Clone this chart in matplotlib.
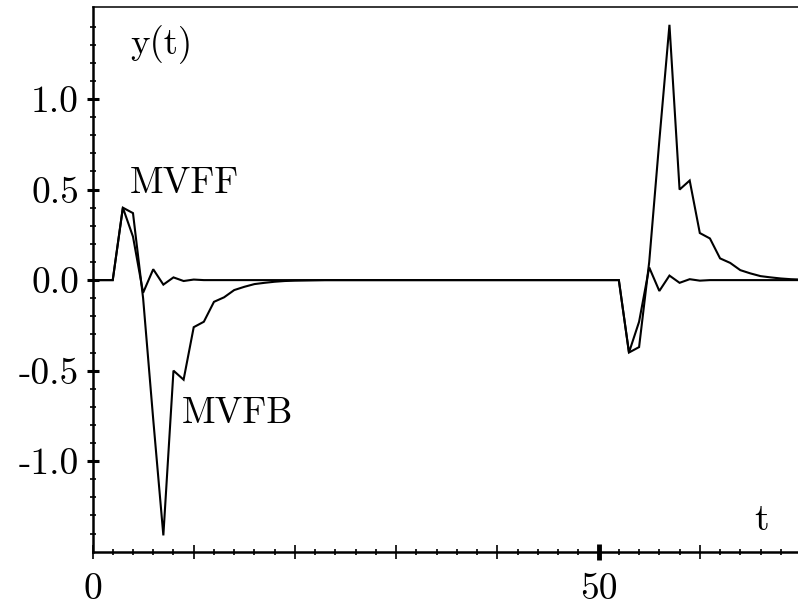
import matplotlib
matplotlib.use("Agg")
import matplotlib.pyplot as plt
import numpy as np
from matplotlib.ticker import FixedLocator, MultipleLocator, FixedFormatter

# ---- data ----
t = [0, 1, 2, 3, 4, 5, 6, 7, 8, 9,
     10, 11, 12, 13, 14, 15, 16, 17, 18, 19,
     20, 21, 22, 23, 24, 25, 26, 27, 28, 29,
     30, 31, 32, 33, 34, 35, 36, 37, 38, 39,
     40, 41, 42, 43, 44, 45, 46, 47, 48, 49,
     50, 51, 52, 53, 54, 55, 56, 57, 58, 59,
     60, 61, 62, 63, 64, 65, 66, 67, 68, 69, 70]

mvfb = [0.0, 0.0, 0.0, 0.40, 0.37, -0.10, -0.77, -1.41, -0.50, -0.55,
        -0.26, -0.23, -0.12, -0.095, -0.055, -0.037, -0.022, -0.015, -0.009, -0.005,
        -0.003, -0.002, -0.001, 0.0, 0.0, 0.0, 0.0, 0.0, 0.0, 0.0,
        0.0, 0.0, 0.0, 0.0, 0.0, 0.0, 0.0, 0.0, 0.0, 0.0,
        0.0, 0.0, 0.0, 0.0, 0.0, 0.0, 0.0, 0.0, 0.0, 0.0,
        0.0, 0.0, 0.0, -0.40, -0.37, 0.10, 0.77, 1.41, 0.50, 0.55,
        0.26, 0.23, 0.12, 0.095, 0.055, 0.037, 0.022, 0.015, 0.009, 0.005, 0.003]

mvff = [0.0, 0.0, 0.0, 0.40, 0.24, -0.07, 0.06, -0.025, 0.015, -0.005,
        0.003, 0.0, 0.0, 0.0, 0.0, 0.0, 0.0, 0.0, 0.0, 0.0,
        0.0, 0.0, 0.0, 0.0, 0.0, 0.0, 0.0, 0.0, 0.0, 0.0,
        0.0, 0.0, 0.0, 0.0, 0.0, 0.0, 0.0, 0.0, 0.0, 0.0,
        0.0, 0.0, 0.0, 0.0, 0.0, 0.0, 0.0, 0.0, 0.0, 0.0,
        0.0, 0.0, 0.0, -0.40, -0.23, 0.07, -0.06, 0.025, -0.015, 0.005,
        -0.003, 0.0, 0.0, 0.0, 0.0, 0.0, 0.0, 0.0, 0.0, 0.0, 0.0]

x_major = [0, 10, 20, 30, 40, 50, 60]
x_labels = ["0", "", "", "", "", "50", ""]
y_major = [-1.0, -0.5, 0.0, 0.5, 1.0]
y_labels = ["-1.0", "-0.5", "0.0", "0.5", "1.0"]

plt.rcParams["font.family"] = ["cmr10", "DejaVu Serif"]
plt.rcParams["axes.unicode_minus"] = False

W, H = 798, 606
fig = plt.figure(figsize=(W / 100, H / 100), dpi=100)
ax = fig.add_axes([92.5 / W, 54.3 / H, (W - 92.5) / W, 545.0 / H])

ax.plot(t, mvff, color="black", lw=1.5, solid_joinstyle="miter")
ax.plot(t, mvfb, color="black", lw=1.5, solid_joinstyle="miter")

ax.set_xlim(0, 69.7)
ax.set_ylim(-1.5, 1.51)

ax.spines["right"].set_visible(False)
ax.spines["left"].set_linewidth(1.8)
ax.spines["bottom"].set_linewidth(1.8)
ax.spines["top"].set_linewidth(1.1)

ax.xaxis.set_major_locator(FixedLocator(x_major))
ax.xaxis.set_major_formatter(FixedFormatter(x_labels))
ax.xaxis.set_minor_locator(MultipleLocator(2))
ax.yaxis.set_major_locator(FixedLocator(y_major))
ax.yaxis.set_major_formatter(FixedFormatter(y_labels))
ax.yaxis.set_minor_locator(FixedLocator(np.round(np.arange(-1.4, 1.41, 0.1), 2)))

ax.tick_params(axis="x", which="major", direction="inout", length=9.4, width=1.2,
               labelsize=27, pad=10.5, top=False)
ax.tick_params(axis="x", which="minor", direction="inout", length=5, width=1.2, top=False)
ax.tick_params(axis="y", which="major", direction="inout", length=8.6, width=2.2,
               labelsize=27, pad=5.5, right=False)
ax.tick_params(axis="y", which="minor", direction="inout", length=4.5, width=1.2, right=False)

fig.canvas.draw()
for tk in ax.xaxis.get_major_ticks():
    if tk.get_loc() == 50:
        tk.tick1line.set_markeredgewidth(3.5)
        tk.tick1line.set_markersize(11.5)

def px(x, y):
    return x / W, 1 - y / H

fig.text(*px(130, 54), "y(t)", fontsize=26.5, va="baseline", ha="left")
fig.text(*px(130, 193), "MVFF", fontsize=26.5, va="baseline", ha="left")
fig.text(*px(182, 423), "MVFB", fontsize=26.5, va="baseline", ha="left")
fig.text(*px(762, 530), "t", fontsize=27, va="baseline", ha="center")

fig.savefig("out.png", dpi=100)
